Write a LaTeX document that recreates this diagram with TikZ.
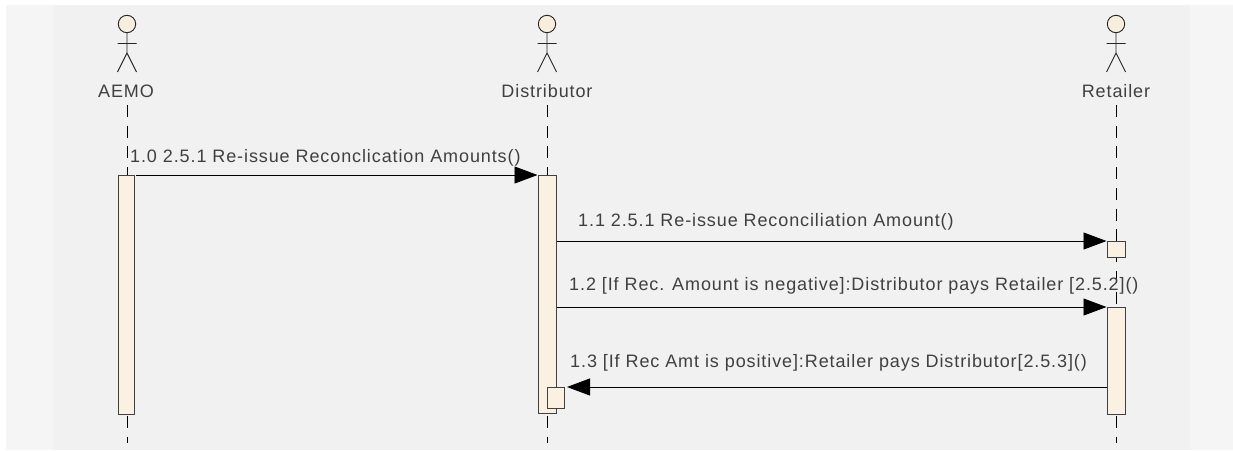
\documentclass[tikz,border=0pt]{standalone}
\usepackage{fontspec}
\setmainfont[LetterSpace=5]{Liberation Sans}
\usetikzlibrary{arrows.meta}
\definecolor{outerbg}{HTML}{F6F5F6}
\definecolor{innerbg}{HTML}{F1F1F1}
\definecolor{bar}{HTML}{FBF1E3}
\definecolor{head}{HTML}{F7EEDD}
\definecolor{txt}{HTML}{404040}
\tikzset{
  lbl/.style={font=\fontsize{18pt}{20pt}\selectfont,text=txt,inner sep=0pt,anchor=base west},
  actorname/.style={font=\fontsize{18pt}{20pt}\selectfont,text=txt,inner sep=0pt,anchor=base},
  lifeline/.style={line width=0.9pt,black,dash pattern=on 12pt off 8.73pt},
  bar/.style={draw=black!75,fill=bar,line width=1pt,minimum width=#1,inner sep=0pt,anchor=north},
  msg/.style={line width=0.9pt,black,-{Triangle[length=23pt,width=17pt]}},
  stick/.style={line width=0.9pt,black!85},
}
\newcommand{\actorfig}[1]{%
  \begin{scope}[shift={(#1,0)}]
    \draw[stick,fill=head] (0,24) circle[radius=8.7];
    \draw[stick] (0,33) -- (0,53) (-9.5,43.5) -- (9.5,43.5) (-9.5,72) -- (0,53) -- (9.5,72);
  \end{scope}}
\begin{document}
\begin{tikzpicture}[x=1pt,y=-1pt]
\useasboundingbox (0,0) rectangle (1233,450);
\fill[white] (0,0) rectangle (1233,450);
\fill[outerbg] (6,5) rectangle (1233,450);
\fill[innerbg] (53,5) rectangle (1190,450);

\actorfig{127}\actorfig{547}\actorfig{1116}
\node[actorname] (aemo) at (126,97) {AEMO};
\node[actorname] (dist) at (547,97) {Distributor};
\node[actorname] (ret) at (1116,97) {Retailer};

\coordinate (aemoTop) at (127,105);
\coordinate (aemoEnd) at (127,443);
\coordinate (distTop) at (547,105);
\coordinate (distEnd) at (547,443);
\coordinate (retTop) at (1116,105);
\coordinate (retEnd) at (1116,443);
\draw[lifeline] (aemoTop) -- (aemoEnd);
\draw[lifeline] (distTop) -- (distEnd);
\draw[lifeline] (retTop) -- (retEnd);

\node[bar=16pt,minimum height=238.5pt] (a1) at (126,175) {};
\node[bar=18pt,minimum height=238pt] (d1) at (547,175) {};
\node[bar=17pt,minimum height=21pt] (d2) at (555.5,387) {};
\node[bar=18pt,minimum height=16pt] (r1) at (1116,241) {};
\node[bar=18pt,minimum height=106.5pt] (r2) at (1116,307) {};

\coordinate (m1) at (136,175);
\coordinate (m2a) at (557,241);
\coordinate (m3a) at (557,307);
\coordinate (m4tip) at (567,387);
\draw[msg] (m1) -- (d1.north west);
\draw[msg] (m2a) -- (r1.north west);
\draw[msg] (m3a) -- (r2.north west);
\draw[msg] (r2.west |- d2.north) -- (m4tip);

\node[lbl] (t1) at (130,162) {1.0 2.5.1 Re-issue Reconclication Amounts()};
\node[lbl] (t2) at (578,226) {1.1 2.5.1 Re-issue Reconciliation Amount()};
\node[lbl] (t3) at (569,290) {1.2 [If Rec. Amount is negative]:Distributor pays Retailer [2.5.2]()};
\node[lbl] (t4) at (570,367) {1.3 [If Rec Amt is positive]:Retailer pays Distributor[2.5.3]()};
\end{tikzpicture}
\end{document}
